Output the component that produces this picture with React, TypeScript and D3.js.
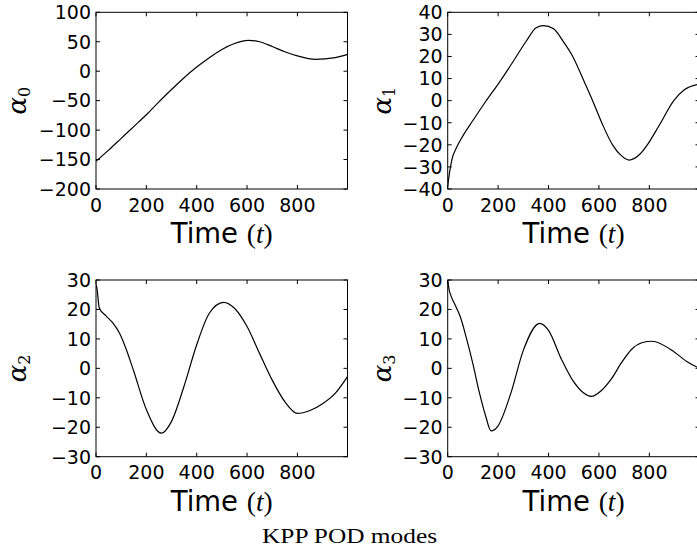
import React from 'react';
import * as d3 from 'd3';

// sample times and POD mode coefficients
const TIME0 = [0, 50, 100, 150, 200, 250, 300, 350, 400, 450, 500, 550, 605, 650, 700, 750, 800, 870, 950, 999];
const ALPHA0 = [-153, -134, -114, -94, -74, -52, -31, -11, 7, 23, 37, 47, 52.5, 50, 42, 33, 26, 20.2, 23, 28.5];

const TIME1 = [0, 3, 16, 36, 62, 100, 150, 200, 259, 312, 351, 380, 420, 460, 496, 540, 575, 615, 654, 690, 720, 760, 792, 840, 897, 940, 999];
const ALPHA1 = [-39, -36, -27, -21, -15.6, -9, -0.5, 7.5, 17.6, 27, 33, 34, 32.5, 26.5, 20, 9, 0, -11, -20, -25, -26.9, -24.5, -20, -11, 0, 5, 7.5];

const TIME2 = [0, 4, 13, 40, 66, 93, 120, 150, 200, 260, 300, 350, 400, 450, 507, 550, 600, 650, 700, 750, 800, 850, 900, 950, 999];
const ALPHA2 = [28.5, 27, 20.5, 17.8, 15.5, 12, 6.5, -1, -14, -22, -18, -6, 8, 18.7, 22.4, 20.4, 14.2, 5, -4, -11.3, -15.3, -14.3, -12, -8.5, -2.8];

const TIME3 = [0, 5, 15, 30, 50, 75, 100, 125, 150, 172, 200, 250, 300, 365, 400, 450, 500, 570, 610, 650, 690, 730, 770, 810, 900, 950, 999];
const ALPHA3 = [30, 27, 24.2, 21.4, 17.5, 10, 1.5, -8, -16, -21.2, -19.5, -8.6, 6.1, 15.3, 12.9, 3.3, -4.6, -9.5, -7.5, -3.5, 2, 6.5, 8.7, 9.2, 5.5, 2.2, 0];

const X_TICKS = [0, 200, 400, 600, 800];
const Y_TICKS_0 = [-200, -150, -100, -50, 0, 50, 100];
const Y_TICKS_1 = [-40, -30, -20, -10, 0, 10, 20, 30, 40];
const Y_TICKS_23 = [-30, -20, -10, 0, 10, 20, 30];

const TITLE = 'KPP POD modes';

const panels = [
  { key: 0, time: TIME0, values: ALPHA0, yTicks: Y_TICKS_0, box: [96, 347.5, 12.3, 189], labelX: 26 },
  { key: 1, time: TIME1, values: ALPHA1, yTicks: Y_TICKS_1, box: [447.7, 699.5, 12.3, 189], labelX: 391 },
  { key: 2, time: TIME2, values: ALPHA2, yTicks: Y_TICKS_23, box: [96, 347.5, 280, 456.7], labelX: 26 },
  { key: 3, time: TIME3, values: ALPHA3, yTicks: Y_TICKS_23, box: [447.7, 699.5, 280, 456.7], labelX: 391 },
];

const fmt = d3.format('d');
const tickFont = '"DejaVu Sans", sans-serif';
const mathFont = '"Liberation Serif", "DejaVu Serif", serif';

function Panel({ p }: { p: any }) {
  const [x0, x1, y0, y1] = p.box;
  const yTicks: number[] = p.yTicks;
  const x = d3.scaleLinear().domain([0, 999]).range([x0, x1]);
  const y = d3.scaleLinear().domain([yTicks[0], yTicks[yTicks.length - 1]]).range([y1, y0]);
  const line = d3.line<number>()
    .x((_, i) => x(p.time[i]))
    .y(v => y(v))
    .curve(d3.curveMonotoneX);
  const clipId = `clip${p.key}`;
  const tl = 4;
  return (
    <g>
      <clipPath id={clipId}>
        <rect x={x0} y={y0} width={x1 - x0} height={y1 - y0} />
      </clipPath>
      <path d={line(p.values) || ''} fill="none" stroke="#000" strokeWidth={1.2} clipPath={`url(#${clipId})`} />
      <rect x={x0} y={y0} width={x1 - x0} height={y1 - y0} fill="none" stroke="#000" strokeWidth={1} />
      {X_TICKS.map(t => (
        <g key={`x${t}`}>
          <line x1={x(t)} x2={x(t)} y1={y1} y2={y1 - tl} stroke="#000" />
          <line x1={x(t)} x2={x(t)} y1={y0} y2={y0 + tl} stroke="#000" />
          <text x={x(t)} y={y1 + 22.5} textAnchor="middle" fontFamily={tickFont} fontSize={19}>{fmt(t)}</text>
        </g>
      ))}
      {yTicks.map(t => (
        <g key={`y${t}`}>
          <line x1={x0} x2={x0 + tl} y1={y(t)} y2={y(t)} stroke="#000" />
          <line x1={x1} x2={x1 - tl} y1={y(t)} y2={y(t)} stroke="#000" />
          <text x={x0 - 5} y={y(t) + 6.8} textAnchor="end" fontFamily={tickFont} fontSize={19}>{fmt(t)}</text>
        </g>
      ))}
      <text x={(x0 + x1) / 2} y={y1 + 54.3} textAnchor="middle" fontSize={27.5}>
        <tspan fontFamily={tickFont}>Time </tspan>
        <tspan fontFamily={mathFont}>(</tspan>
        <tspan fontFamily={mathFont} fontStyle="italic">t</tspan>
        <tspan fontFamily={mathFont}>)</tspan>
      </text>
      <text transform={`translate(${p.labelX},${(y0 + y1) / 2}) rotate(-90)`} textAnchor="middle" fontFamily={'"DejaVu Serif", serif'}>
        <tspan fontStyle="italic" fontSize={26}>α</tspan>
        <tspan fontSize={16} dy={4}>{p.key}</tspan>
      </text>
    </g>
  );
}

export default function App() {
  return (
    <svg width={697} height={559} style={{ position: 'absolute', left: 0, top: 0, background: '#fff' }}>
      {panels.map(p => <Panel key={p.key} p={p} />)}
      <text x={349.5} y={543.3} textAnchor="middle" fontFamily={mathFont} fontSize={20} textLength={175} lengthAdjust="spacingAndGlyphs">{TITLE}</text>
    </svg>
  );
}
